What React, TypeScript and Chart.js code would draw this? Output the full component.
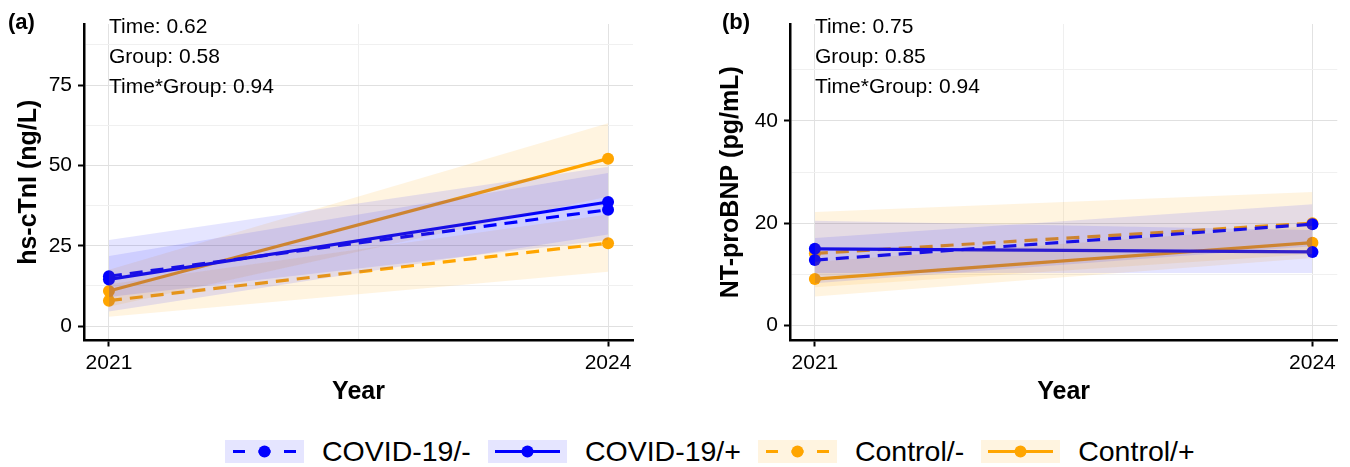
import React, { useEffect, useRef } from 'react';
import { Chart, registerables } from 'chart.js';

Chart.register(...registerables);

// ---------- data ----------
const years = [2021, 2024];
const groupNames = ['COVID-19/-', 'COVID-19/+', 'Control/-', 'Control/+'];

// Panel (a): hs-cTnI (ng/L)
const tnCovidNeg = [15.5, 36.2];
const tnCovidPos = [14.5, 38.6];
const tnCtrlNeg = [7.9, 25.8];
const tnCtrlPos = [10.9, 52.1];
const tnCovidNegLo = [9.0, 26.8];
const tnCovidNegHi = [21.8, 47.6];
const tnCovidPosLo = [4.5, 28.5];
const tnCovidPosHi = [26.8, 49.6];
const tnCtrlNegLo = [2.9, 16.9];
const tnCtrlNegHi = [13.0, 34.7];
const tnCtrlPosLo = [6.0, 40.3];
const tnCtrlPosHi = [17.5, 63.1];
const tnYTicks = [0, 25, 50, 75];
const tnYMinor = [12.5, 37.5, 62.5, 87.5];
const tnStats = ['Time: 0.62', 'Group: 0.58', 'Time*Group: 0.94'];

// Panel (b): NT-proBNP (pg/mL)
const bnpCovidNeg = [12.8, 19.8];
const bnpCovidPos = [15.0, 14.4];
const bnpCtrlNeg = [14.1, 20.0];
const bnpCtrlPos = [9.1, 16.2];
const bnpCovidNegLo = [8.3, 15.5];
const bnpCovidNegHi = [17.1, 23.7];
const bnpCovidPosLo = [10.3, 10.3];
const bnpCovidPosHi = [20.5, 18.7];
const bnpCtrlNegLo = [7.5, 14.0];
const bnpCtrlNegHi = [22.2, 26.1];
const bnpCtrlPosLo = [5.7, 13.2];
const bnpCtrlPosHi = [12.5, 19.5];
const bnpYTicks = [0, 20, 40];
const bnpYMinor = [10, 30, 50];
const bnpStats = ['Time: 0.75', 'Group: 0.85', 'Time*Group: 0.94'];

const xTicks = [2021, 2024];
const xMinor = [2022.5];

// ---------- styles ----------
const FONT = '"Liberation Sans", Arial, Helvetica, sans-serif';
const lineColors = ['#0000FF', '#0000FF', '#FFA500', '#FFA500'];
const ribbonColors = ['rgba(0,0,255,0.1)', 'rgba(0,0,255,0.1)', 'rgba(255,165,0,0.12)', 'rgba(255,165,0,0.12)'];
const keyBg = ['#E5E5FF', '#E5E5FF', '#FFF4E0', '#FFF4E0'];
const dashed = [true, false, true, false];
const drawOrder = [1, 1, 2, 2];

const pts = (vals: number[]) => years.map((x, i) => ({ x, y: vals[i] }));

function buildDatasets(means: number[][], los: number[][], his: number[][]) {
  const ribbons: any[] = [];
  const lines: any[] = [];
  means.forEach((m, g) => {
    ribbons.push({
      data: pts(los[g]),
      borderWidth: 0,
      pointRadius: 0,
      fill: false,
      order: 0,
    });
    ribbons.push({
      data: pts(his[g]),
      borderWidth: 0,
      pointRadius: 0,
      fill: '-1',
      backgroundColor: ribbonColors[g],
      order: 0,
    });
  });
  means.forEach((m, g) => {
    lines.push({
      label: groupNames[g],
      data: pts(m),
      borderColor: lineColors[g],
      backgroundColor: lineColors[g],
      borderWidth: 3.2,
      borderDash: dashed[g] ? [13, 8] : [],
      borderCapStyle: 'butt',
      pointRadius: 6,
      pointBorderWidth: 0,
      pointBackgroundColor: lineColors[g],
      fill: false,
      order: drawOrder[g],
    });
  });
  return [...ribbons, ...lines];
}

const annotPlugin = {
  id: 'annot',
  afterDatasetsDraw(chart: any, _args: any, opts: any) {
    const { ctx, chartArea, scales } = chart;
    const x = scales.x.getPixelForValue(years[0]);
    ctx.save();
    ctx.fillStyle = '#000';
    ctx.textAlign = 'left';
    ctx.textBaseline = 'alphabetic';
    ctx.font = `21px ${FONT}`;
    (opts.lines || []).forEach((t: string, i: number) => {
      ctx.fillText(t, x, chartArea.top + 9 + 30 * i);
    });
    ctx.font = `bold 22px ${FONT}`;
    ctx.fillText(opts.tag, opts.tagX, 29);
    ctx.restore();
  },
};

function makeConfig(p: any) {
  const majorY = new Set(p.yTicks);
  const majorX = new Set(xTicks);
  const allY = [...p.yTicks, ...p.yMinor].sort((a, b) => a - b);
  const allX = [...xTicks, ...xMinor].sort((a, b) => a - b);
  return {
    type: 'line',
    data: { datasets: p.datasets },
    plugins: [annotPlugin],
    options: {
      responsive: false,
      animation: false,
      events: [],
      layout: { padding: { top: 24, right: p.padRight, bottom: 0, left: 0 } },
      plugins: {
        legend: { display: false },
        tooltip: { enabled: false },
        annot: { lines: p.stats, tag: p.tag, tagX: p.tagX },
      },
      scales: {
        x: {
          type: 'linear',
          min: 2020.85,
          max: 2024.15,
          afterBuildTicks: (s: any) => {
            s.ticks = allX.map((v) => ({ value: v }));
          },
          afterFit: (s: any) => {
            s.height = 79.5;
          },
          ticks: {
            autoSkip: false,
            maxRotation: 0,
            padding: 4,
            color: '#000',
            font: { family: FONT, size: 21 },
            callback: (v: number) => (majorX.has(v) ? String(v) : ''),
          },
          grid: {
            color: (c: any) => (c.tick && majorX.has(c.tick.value) ? '#e2e2e2' : '#efefef'),
            lineWidth: 1,
            tickLength: 6,
            tickWidth: 2,
            tickColor: (c: any) => (c.tick && majorX.has(c.tick.value) ? '#000' : 'rgba(0,0,0,0)'),
          },
          border: { display: true, color: '#000', width: 2.5 },
          title: {
            display: true,
            text: 'Year',
            color: '#000',
            font: { family: FONT, size: 25, weight: 'bold' },
            padding: { top: 0, bottom: 13 },
          },
        },
        y: {
          type: 'linear',
          min: p.yMin,
          max: p.yMax,
          afterBuildTicks: (s: any) => {
            s.ticks = allY.map((v) => ({ value: v }));
          },
          afterFit: (s: any) => {
            s.width = p.yWidth;
          },
          ticks: {
            autoSkip: false,
            padding: 6,
            color: '#000',
            font: { family: FONT, size: 21 },
            callback: (v: number) => (majorY.has(v) ? String(v) : ''),
          },
          grid: {
            color: (c: any) => (c.tick && majorY.has(c.tick.value) ? '#e0e0e0' : '#f0f0f0'),
            lineWidth: 1,
            tickLength: 6,
            tickWidth: 2,
            tickColor: (c: any) => (c.tick && majorY.has(c.tick.value) ? '#000' : 'rgba(0,0,0,0)'),
          },
          border: { display: true, color: '#000', width: 2.5 },
          title: {
            display: true,
            text: p.yTitle,
            color: '#000',
            font: { family: FONT, size: 25, weight: 'bold' },
            padding: { top: p.yTitlePad, bottom: 0 },
          },
        },
      },
    },
  } as any;
}

function Panel({ cfg, left }: { cfg: any; left: number }) {
  const ref = useRef<HTMLCanvasElement>(null);
  useEffect(() => {
    if (!ref.current) return;
    const chart = new Chart(ref.current, makeConfig(cfg));
    return () => chart.destroy();
  }, []);
  return (
    <canvas
      ref={ref}
      width={660}
      height={420}
      style={{ position: 'absolute', left, top: 0, width: 660, height: 420 }}
    />
  );
}

function LegendKey({ g }: { g: number }) {
  const c = lineColors[g];
  return (
    <svg width={79} height={23} style={{ display: 'block', flex: 'none' }}>
      <rect x={0} y={0} width={79} height={23} fill={keyBg[g]} />
      {dashed[g] ? (
        <line x1={8} x2={71} y1={11.5} y2={11.5} stroke={c} strokeWidth={3} strokeDasharray="12 13.5" />
      ) : (
        <line x1={7} x2={72} y1={11.5} y2={11.5} stroke={c} strokeWidth={3} />
      )}
      <circle cx={39.5} cy={11.5} r={6} fill={c} />
    </svg>
  );
}

export default function App() {
  const panelA = {
    datasets: buildDatasets(
      [tnCovidNeg, tnCovidPos, tnCtrlNeg, tnCtrlPos],
      [tnCovidNegLo, tnCovidPosLo, tnCtrlNegLo, tnCtrlPosLo],
      [tnCovidNegHi, tnCovidPosHi, tnCtrlNegHi, tnCtrlPosHi]
    ),
    yMin: -4.5,
    yMax: 94,
    yTicks: tnYTicks,
    yMinor: tnYMinor,
    yWidth: 84,
    padRight: 27,
    yTitle: 'hs-cTnI (ng/L)',
    yTitlePad: 14.5,
    stats: tnStats,
    tag: '(a)',
    tagX: 8,
  };
  const panelB = {
    datasets: buildDatasets(
      [bnpCovidNeg, bnpCovidPos, bnpCtrlNeg, bnpCtrlPos],
      [bnpCovidNegLo, bnpCovidPosLo, bnpCtrlNegLo, bnpCtrlPosLo],
      [bnpCovidNegHi, bnpCovidPosHi, bnpCtrlNegHi, bnpCtrlPosHi]
    ),
    yMin: -2.9,
    yMax: 58.9,
    yTicks: bnpYTicks,
    yMinor: bnpYMinor,
    yWidth: 100,
    padRight: 12.7,
    yTitle: 'NT-proBNP (pg/mL)',
    yTitlePad: 26.5,
    stats: bnpStats,
    tag: '(b)',
    tagX: 32,
  };

  return (
    <div
      style={{
        position: 'absolute',
        left: 0,
        top: 0,
        width: 1350,
        height: 467,
        background: '#fff',
        overflow: 'hidden',
        fontFamily: FONT,
      }}
    >
      <Panel cfg={panelA} left={0} />
      <Panel cfg={panelB} left={690} />
      <div
        style={{
          position: 'absolute',
          left: 225,
          top: 440,
          height: 23,
          display: 'flex',
          alignItems: 'center',
          whiteSpace: 'nowrap',
        }}
      >
        {groupNames.map((name, g) => (
          <div key={name} style={{ display: 'flex', alignItems: 'center', marginRight: 17 }}>
            <LegendKey g={g} />
            <span style={{ marginLeft: 18, fontSize: 28.5, lineHeight: '23px', color: '#000' }}>{name}</span>
          </div>
        ))}
      </div>
    </div>
  );
}
